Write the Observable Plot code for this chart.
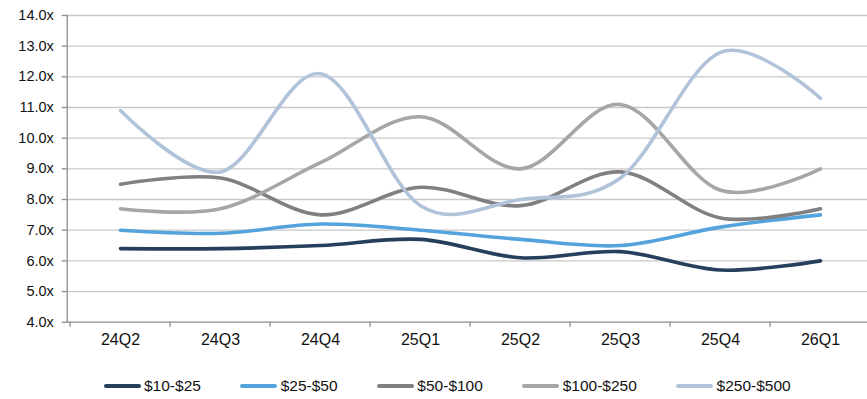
<!DOCTYPE html>
<html>
<head>
<meta charset="utf-8">
<script src="https://cdn.jsdelivr.net/npm/d3@7"></script>
<script src="https://cdn.jsdelivr.net/npm/@observablehq/plot@0.6"></script>
<style>
  html, body { margin: 0; padding: 0; background: #fff; }
  body { width: 867px; height: 399px; overflow: hidden; font-family: "Liberation Sans", Arial, sans-serif; }
  #legend { display: flex; align-items: center; padding-left: 101.7px; gap: 37.5px; height: 22px; margin-top: 10px; font-size: 15.5px; color: #111; }
  .item { display: flex; align-items: center; }
  .sw { width: 37px; height: 4px; border-radius: 2px; margin: 0 3.3px 0 2px; }
</style>
</head>
<body>
<div id="chart"></div>
<div id="legend"></div>
<script>
const categories = ["24Q2", "24Q3", "24Q4", "25Q1", "25Q2", "25Q3", "25Q4", "26Q1"];
const seriesNames = ["$10-$25", "$25-$50", "$50-$100", "$100-$250", "$250-$500"];
const seriesColors = ["#263f5c", "#55a3dc", "#808080", "#a6a6a6", "#b1c3d9"];
const s10_25   = [6.4, 6.4, 6.5, 6.7, 6.1, 6.3, 5.7, 6.0];
const s25_50   = [7.0, 6.9, 7.2, 7.0, 6.7, 6.5, 7.1, 7.5];
const s50_100  = [8.5, 8.7, 7.5, 8.4, 7.8, 8.9, 7.4, 7.7];
const s100_250 = [7.7, 7.7, 9.2, 10.7, 9.0, 11.1, 8.3, 9.0];
const s250_500 = [10.9, 8.9, 12.1, 7.8, 8.0, 8.7, 12.8, 11.3];
const yTicks = [4, 5, 6, 7, 8, 9, 10, 11, 12, 13, 14];

const allSeries = [s10_25, s25_50, s50_100, s100_250, s250_500];
const data = [];
allSeries.forEach((vals, si) => vals.forEach((v, i) => data.push({q: categories[i], v, s: seriesNames[si]})));

const xRange = [66.7, 873.6];
const step = (xRange[1] - xRange[0]) / categories.length;

const chart = Plot.plot({
  width: 867,
  height: 365,
  marginLeft: 66.7,
  marginRight: 0,
  marginTop: 15,
  marginBottom: 43.3,
  style: {fontFamily: "'Liberation Sans', Arial, sans-serif", fontSize: "15px", color: "#111", background: "#fff"},
  x: {type: "point", domain: categories, range: xRange, padding: 0.5, axis: null, label: null},
  y: {domain: [4, 14], axis: null, label: null},
  color: {domain: seriesNames, range: seriesColors},
  marks: [
    Plot.ruleY(yTicks.slice(1), {stroke: "#c8c8c8", strokeWidth: 1.3}),
    Plot.ruleY([4], {stroke: "#8c8c8c", strokeWidth: 1.3}),
    Plot.frame({anchor: "left", stroke: "#8c8c8c", strokeWidth: 1.3}),
    Plot.axisY({ticks: yTicks, label: null, tickSize: 5, tickPadding: 8.4, tickFormat: d => d.toFixed(1) + "x", stroke: "#8c8c8c", strokeWidth: 1.3, fontSize: 14.5, fill: "#111"}),
    Plot.axisX({ticks: categories, label: null, tickSize: 5, dx: -step / 2, tickFormat: () => "", stroke: "#8c8c8c", strokeWidth: 1.3}),
    Plot.axisX({ticks: categories, label: null, tickSize: 0, tickPadding: 11, fontSize: 16, fill: "#111"}),
    Plot.line(data, {x: "q", y: "v", z: "s", stroke: "s", strokeWidth: 3.6, curve: "cardinal", strokeLinecap: "round"})
  ]
});
document.getElementById("chart").appendChild(chart);

const legend = document.getElementById("legend");
seriesNames.forEach((name, i) => {
  const item = document.createElement("div");
  item.className = "item";
  const sw = document.createElement("div");
  sw.className = "sw";
  sw.style.background = seriesColors[i];
  const t = document.createElement("span");
  t.textContent = name;
  item.appendChild(sw);
  item.appendChild(t);
  legend.appendChild(item);
});
</script>
</body>
</html>
